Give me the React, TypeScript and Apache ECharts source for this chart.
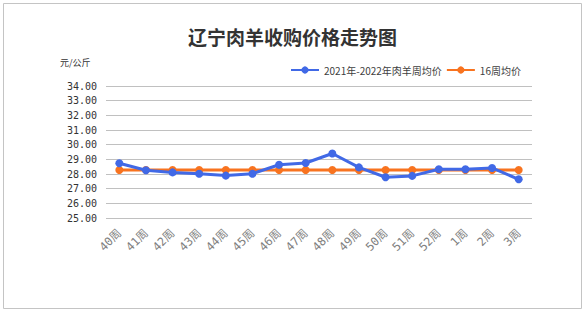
import React, { useEffect, useRef } from "react";
import * as echarts from "echarts";

const categories = ["40周", "41周", "42周", "43周", "44周", "45周", "46周", "47周", "48周", "49周", "50周", "51周", "52周", "1周", "2周", "3周"];
const weeklyPrice = [28.73, 28.26, 28.11, 28.02, 27.89, 28.02, 28.63, 28.75, 29.4, 28.45, 27.78, 27.87, 28.32, 28.32, 28.41, 27.64];
const avg16 = [28.27, 28.27, 28.27, 28.27, 28.27, 28.27, 28.27, 28.27, 28.27, 28.27, 28.27, 28.27, 28.27, 28.27, 28.27, 28.27];
const seriesNames = ["2021年-2022年肉羊周均价", "16周均价"];
const yMin = 25;
const yMax = 34;

export default function App() {
  const ref = useRef<HTMLDivElement>(null);
  useEffect(() => {
    if (!ref.current) return;
    const chart = echarts.init(ref.current, undefined, { renderer: "svg" });
    const mono = "'DejaVu Sans Mono', 'Noto Sans CJK SC', monospace";
    chart.setOption({
      animation: false,
      backgroundColor: "#ffffff",
      title: {
        text: "辽宁肉羊收购价格走势图",
        left: "center",
        top: 22,
        textStyle: {
          fontFamily: "'Noto Sans CJK SC', serif",
          fontWeight: "bold",
          fontSize: 19,
          color: "#333333",
        },
      },
      legend: {
        left: 285,
        top: 60,
        itemWidth: 28,
        itemHeight: 9,
        itemGap: 4,
        textStyle: { fontSize: 10, color: "#404040", fontFamily: "'Noto Sans CJK SC', sans-serif" },
        data: seriesNames,
      },
      graphic: [
        {
          type: "rect",
          shape: { x: 3.5, y: 3.5, width: 578, height: 305 },
          style: { fill: "none", stroke: "#c4c4c4", lineWidth: 1 },
          silent: true,
        },
        {
          type: "text",
          left: 60,
          top: 58,
          style: { text: "元/公斤", fontSize: 9, fill: "#333333", fontFamily: "'Noto Sans CJK SC', sans-serif" },
        },
      ],
      grid: { left: 106, right: 53, top: 86, bottom: 93, containLabel: false },
      xAxis: {
        type: "category",
        data: categories,
        boundaryGap: true,
        axisLine: { show: false },
        axisTick: { show: false },
        axisLabel: {
          rotate: 45,
          fontSize: 11.5,
          color: "#808080",
          fontFamily: mono,
          margin: 13,
          interval: 0,
        },
      },
      yAxis: {
        type: "value",
        min: yMin,
        max: yMax,
        interval: 1,
        axisLine: { show: false },
        axisTick: { show: false },
        axisLabel: {
          formatter: (v: number) => v.toFixed(2),
          fontSize: 10,
          color: "#333333",
          fontFamily: mono,
          margin: 9,
        },
        splitLine: { lineStyle: { color: "#c0c0c0", width: 1 } },
      },
      series: [
        {
          name: seriesNames[0],
          type: "line",
          data: weeklyPrice,
          symbol: "circle",
          symbolSize: 8,
          lineStyle: { color: "#4169e6", width: 3 },
          itemStyle: { color: "#4169e6" },
          z: 3,
        },
        {
          name: seriesNames[1],
          type: "line",
          data: avg16,
          symbol: "circle",
          symbolSize: 8,
          lineStyle: { color: "#f8731f", width: 3 },
          itemStyle: { color: "#f8731f" },
          z: 2,
        },
      ],
    });
    return () => chart.dispose();
  }, []);
  return (
    <div
      ref={ref}
      style={{ position: "fixed", left: 0, top: 0, width: 585, height: 311 }}
    />
  );
}
